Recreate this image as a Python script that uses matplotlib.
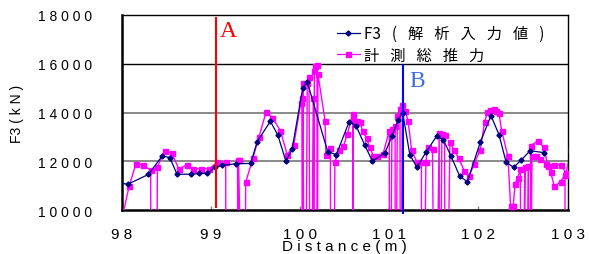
import numpy as np
import matplotlib
matplotlib.use("Agg")
import matplotlib.pyplot as plt

plt.rcParams['font.family'] = ['Liberation Sans', 'DejaVu Sans']

# F3 (解析入力値)
f3_x = [97.95, 98.07, 98.30, 98.455, 98.54, 98.62, 98.78, 98.87, 98.96, 99.046,
        99.13, 99.28, 99.446, 99.52, 99.667, 99.75, 99.84, 99.91, 100.03, 100.08,
        100.31, 100.406, 100.55, 100.627, 100.724, 100.81, 100.95, 101.03, 101.10, 101.15,
        101.23, 101.31, 101.41, 101.53, 101.605, 101.69, 101.79, 101.875, 102.02, 102.14,
        102.23, 102.31, 102.395, 102.476, 102.58, 102.74]
f3_y = [11120, 11060, 11460, 12220, 12150, 11465, 11470, 11500, 11500, 11750,
        11830, 11900, 11910, 12810, 13640, 13077, 12015, 12490, 15010, 15260,
        12390, 12270, 13620, 13460, 12667, 12010, 12339, 13023, 13700, 14000,
        12270, 11752, 12366, 13023, 12886, 12230, 11383, 11164, 12777, 13870,
        13090, 11957, 11752, 12040, 12433, 12351]

# 計測総推力 (measured total thrust), zeros are dropouts
ms_x = [98.0, 98.085, 98.16, 98.24, 98.325, 98.33, 98.39, 98.40, 98.48, 98.56,
        98.64, 98.73, 98.80, 98.89, 98.98, 99.07, 99.166, 99.17, 99.30, 99.30,
        99.305, 99.31, 99.38, 99.39, 99.47, 99.54, 99.62, 99.69, 99.78, 99.856,
        99.93, 100.007, 100.02, 100.03, 100.03, 100.056, 100.08, 100.10, 100.12, 100.15,
        100.15, 100.16, 100.17, 100.19, 100.19, 100.20, 100.28, 100.29, 100.34, 100.345,
        100.37, 100.39, 100.44, 100.485, 100.53, 100.59, 100.592, 100.596, 100.634, 100.67,
        100.70, 100.746, 100.78, 100.82, 100.866, 100.93, 101.0, 101.002, 101.03, 101.065,
        101.067, 101.09, 101.12, 101.125, 101.146, 101.176, 101.21, 101.25, 101.31, 101.36,
        101.362, 101.38, 101.41, 101.43, 101.485, 101.51, 101.56, 101.562, 101.59, 101.62,
        101.63, 101.68, 101.725, 101.78, 101.84, 101.895, 101.95, 102.02, 102.07, 102.10,
        102.13, 102.17, 102.20, 102.23, 102.26, 102.33, 102.36, 102.39, 102.41, 102.44,
        102.47, 102.475, 102.52, 102.525, 102.56, 102.57, 102.60, 102.64, 102.69, 102.76,
        102.81, 102.85, 102.92, 102.97, 102.975, 102.58, 102.585, 102.67, 102.73, 102.78,
        102.85, 102.93, 102.98, 103.04, 103.045]
ms_y = [9600, 11000, 11900, 11834, 11640, 0, 0, 11770, 12420, 12350,
        11690, 11846, 11690, 11690, 11690, 11957, 11982, 0, 0, 12050,
        0, 12050, 0, 11130, 12120, 13008, 14033, 13775, 13254, 12257,
        12680, 14370, 14600, 0, 15210, 0, 15210, 15444, 0, 14585,
        0, 15700, 15900, 15950, 0, 15580, 13665, 12257, 12530, 0,
        0, 11982, 12475, 12613, 13118, 13940, 0, 13692, 13665, 13623,
        13254, 12940, 12573, 12230, 12230, 12298, 13254, 0, 13323, 13460,
        0, 13870, 14140, 0, 14300, 14070, 13665, 12475, 11957, 11982,
        0, 0, 11982, 12573, 12500, 0, 13160, 0, 13100, 13077,
        0, 12777, 12460, 12120, 11612, 11383, 11887, 12475, 13623, 14008,
        14103, 14144, 14075, 13965, 13254, 12200, 10180, 10180, 11067, 11300,
        11700, 0, 11750, 0, 11790, 0, 12230, 12230, 12090, 11900,
        11545, 10970, 11160, 11450, 0, 0, 12640, 12845, 12573, 11818,
        11846, 11846, 11500, 12475, 0]

x_ticks = [98, 99, 100, 101, 102, 103]
y_ticks = [10000, 12000, 14000, 16000, 18000]

sp = '\u2002 '
label_f3 = 'F3' + sp + ('(' + sp + sp.join('解析入力値') + sp + ')')
label_ms = sp.join('計測総推力')

fig = plt.figure(figsize=(5.89, 2.55), dpi=100)
ax = fig.add_axes([0.2066, 0.1725, 0.7572, 0.7648])

ax.axhline(12000, color='#808080', lw=1.3, zorder=1)
ax.axhline(14000, color='#808080', lw=1.3, zorder=1)
ax.axhline(16000, color='black', lw=1.0, zorder=1)

ax.plot(f3_x, f3_y, color='#000080', lw=0.9, marker='D', ms=2.6,
        label=label_f3, zorder=4)
ax.plot(ms_x, ms_y, color='#FF00FF', lw=1.0, marker='s', ms=3.6,
        label=label_ms, zorder=3)

ax.vlines(99.057, 10080, 17900, color='#FF0000', lw=1.5, zorder=5)
ax.text(99.10, 17350, 'A', color='#FF0000', fontsize=17,
        family='Liberation Serif', va='center', ha='left')
ax.vlines(101.15, 9840, 16000, color='#0000FF', lw=1.5, zorder=5, clip_on=False)
ax.text(101.22, 15300, 'B', color='#3A6FE0', fontsize=17,
        family='Liberation Serif', va='center', ha='left')

ax.set_xlim(98, 103)
ax.set_ylim(10000, 18000)
ax.set_xticks(x_ticks)
ax.set_xticklabels([' '.join(str(t)) for t in x_ticks], fontsize=11)
ax.set_yticks(y_ticks)
ax.set_yticklabels([' '.join(str(t)) for t in y_ticks], fontsize=10)
ax.tick_params(axis='x', direction='in', length=3, width=1, color='#808080', pad=12)
ax.tick_params(axis='y', direction='in', length=0, pad=21)

for s in ['left', 'bottom']:
    ax.spines[s].set_linewidth(1.8)
for s in ['top', 'right']:
    ax.spines[s].set_linewidth(1.0)

ax.set_xlabel('D i s t a n c e ( m )', fontsize=11, labelpad=-1)
ax.set_ylabel('F3 ( k N )', fontsize=10, labelpad=10)

leg = ax.legend(loc='upper right', bbox_to_anchor=(0.955, 0.965), frameon=False,
                handlelength=1.5, handletextpad=0.3, labelspacing=0.3,
                borderaxespad=0.0, borderpad=0.2,
                prop={'family': ['Noto Sans CJK JP', 'DejaVu Sans'], 'size': 11})
for h in leg.legend_handles:
    h.set_linewidth(0.9)

fig.savefig('out.png', dpi=100)
